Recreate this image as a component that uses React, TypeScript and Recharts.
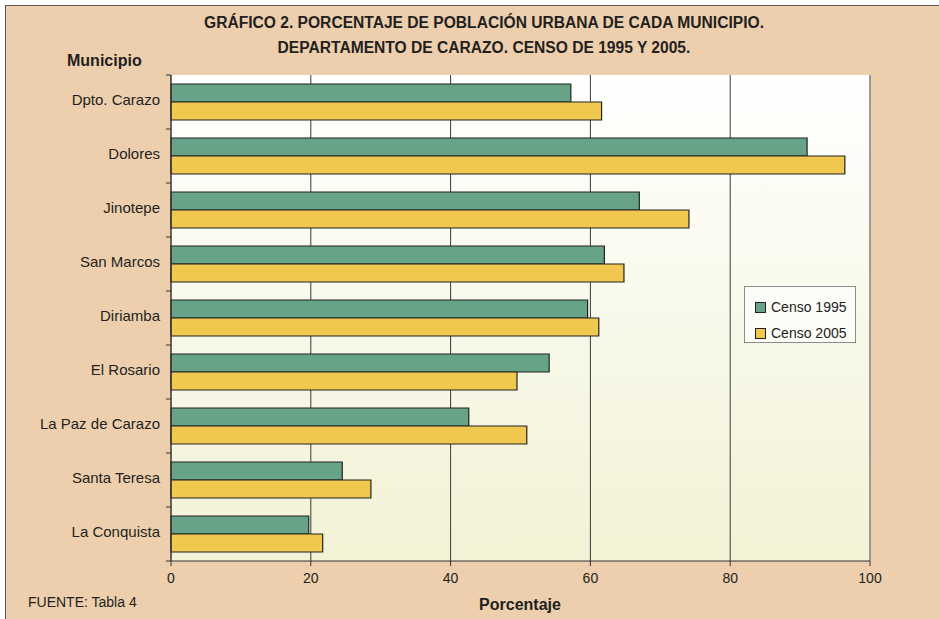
import React from "react";
import {
  BarChart,
  Bar,
  XAxis,
  YAxis,
  CartesianGrid,
  Legend,
  ReferenceLine,
} from "recharts";

const municipios = [
  "Dpto. Carazo",
  "Dolores",
  "Jinotepe",
  "San Marcos",
  "Diriamba",
  "El Rosario",
  "La Paz de Carazo",
  "Santa Teresa",
  "La Conquista",
];
const censo1995 = [57.2, 91.0, 67.0, 62.0, 59.6, 54.1, 42.6, 24.5, 19.7];
const censo2005 = [61.6, 96.4, 74.1, 64.8, 61.2, 49.5, 50.9, 28.6, 21.7];
const xTicks = [0, 20, 40, 60, 80, 100];

const data = municipios.map((m, i) => ({
  municipio: m,
  c1995: censo1995[i],
  c2005: censo2005[i],
}));

const font = '"Liberation Sans", Arial, sans-serif';

// category label plus the small tick mark on the band boundary above it
function CategoryTick({ x, y, payload, index }: any) {
  const half = payload && payload.offset ? payload.offset : 27;
  return (
    <g>
      <line x1={x + 6} x2={x + 11} y1={y - half} y2={y - half} stroke="#333" />
      {index === municipios.length - 1 && (
        <line x1={x + 6} x2={x + 11} y1={y + half} y2={y + half} stroke="#333" />
      )}
      <text
        x={x}
        y={y}
        dy={3}
        textAnchor="end"
        fill="#231f20"
        fontSize={15}
        fontFamily={font}
      >
        {payload.value}
      </text>
    </g>
  );
}

function LegendBox({ payload }: any) {
  return (
    <div
      style={{
        width: 112,
        height: 57,
        background: "#FDFDF8",
        border: "1px solid #8c8c8c",
        boxSizing: "border-box",
        padding: "7px 0 0 10px",
        fontFamily: font,
        fontSize: 14,
        color: "#222",
      }}
    >
      {(payload || []).map((p: any) => (
        <div key={p.value} style={{ display: "flex", alignItems: "center", height: 26 }}>
          <span
            style={{
              width: 9,
              height: 9,
              background: p.color,
              border: "1px solid #222",
              marginRight: 5,
            }}
          />
          {p.value}
        </div>
      ))}
    </div>
  );
}

export default function App() {
  return (
    <div
      style={{
        position: "absolute",
        left: 0,
        top: 0,
        width: 939,
        height: 619,
        background: "#fff",
        overflow: "hidden",
      }}
    >
      <div
        style={{
          position: "absolute",
          left: 5,
          top: 5,
          width: 940,
          height: 620,
          background: "#EDCFAE",
          borderLeft: "1px solid #555",
          borderTop: "1px solid #555",
        }}
      />
      <div
        style={{
          position: "absolute",
          left: 0,
          width: 968,
          top: 10,
          textAlign: "center",
          fontFamily: font,
          fontWeight: "bold",
          fontSize: 15.6,
          lineHeight: "25px",
          color: "#231f20",
        }}
      >
        GRÁFICO 2. PORCENTAJE DE POBLACIÓN URBANA DE CADA MUNICIPIO.
        <br />
        DEPARTAMENTO DE CARAZO. CENSO DE 1995 Y 2005.
      </div>
      <div
        style={{
          position: "absolute",
          left: 67,
          top: 52,
          fontFamily: font,
          fontWeight: "bold",
          fontSize: 16,
          color: "#231f20",
        }}
      >
        Municipio
      </div>
      <div
        style={{
          position: "absolute",
          left: 420,
          width: 200,
          top: 596,
          textAlign: "center",
          fontFamily: font,
          fontWeight: "bold",
          fontSize: 16,
          color: "#231f20",
        }}
      >
        Porcentaje
      </div>
      <div
        style={{
          position: "absolute",
          left: 28,
          top: 594,
          fontFamily: font,
          fontSize: 14,
          color: "#231f20",
        }}
      >
        FUENTE: Tabla 4
      </div>
      <div style={{ position: "absolute", left: 0, top: 0 }}>
        <BarChart
          width={939}
          height={619}
          data={data}
          layout="vertical"
          margin={{ top: 75, right: 69, bottom: 28, left: 11 }}
          barSize={18}
          barGap={0}
        >
          <defs>
            <linearGradient id="plotBg" x1="0" y1="0" x2="0" y2="1">
              <stop offset="0%" stopColor="#FFFFFF" />
              <stop offset="100%" stopColor="#F2F2D6" />
            </linearGradient>
          </defs>
          <CartesianGrid
            horizontal={false}
            stroke="#3a3a3a"
            fill="url(#plotBg)"
            fillOpacity={1}
          />
          <XAxis
            type="number"
            domain={[0, 100]}
            ticks={xTicks}
            height={30}
            tickSize={5}
            tickMargin={7}
            stroke="#333"
            tick={{ fill: "#231f20", fontSize: 14, fontFamily: font }}
          />
          <XAxis
            xAxisId="top"
            orientation="top"
            type="number"
            domain={[0, 100]}
            tick={false}
            tickLine={false}
            height={0}
            stroke="#9a9a9a"
            strokeWidth={2}
          />
          <YAxis
            type="category"
            dataKey="municipio"
            width={160}
            tickLine={false}
            tickSize={0}
            tickMargin={11}
            stroke="#333"
            tick={<CategoryTick />}
          />
          <ReferenceLine x={100} stroke="#9a9a9a" strokeWidth={2} />
          <Legend
            layout="horizontal"
            verticalAlign="middle"
            align="center"
            content={<LegendBox />}
            wrapperStyle={{ position: "absolute", left: 744, top: 286, width: 112 }}
          />
          <Bar
            dataKey="c1995"
            name="Censo 1995"
            fill="#67A386"
            stroke="#232323"
            strokeWidth={1.2}
            isAnimationActive={false}
          />
          <Bar
            dataKey="c2005"
            name="Censo 2005"
            fill="#F0C84F"
            stroke="#232323"
            strokeWidth={1.2}
            isAnimationActive={false}
          />
        </BarChart>
      </div>
    </div>
  );
}
